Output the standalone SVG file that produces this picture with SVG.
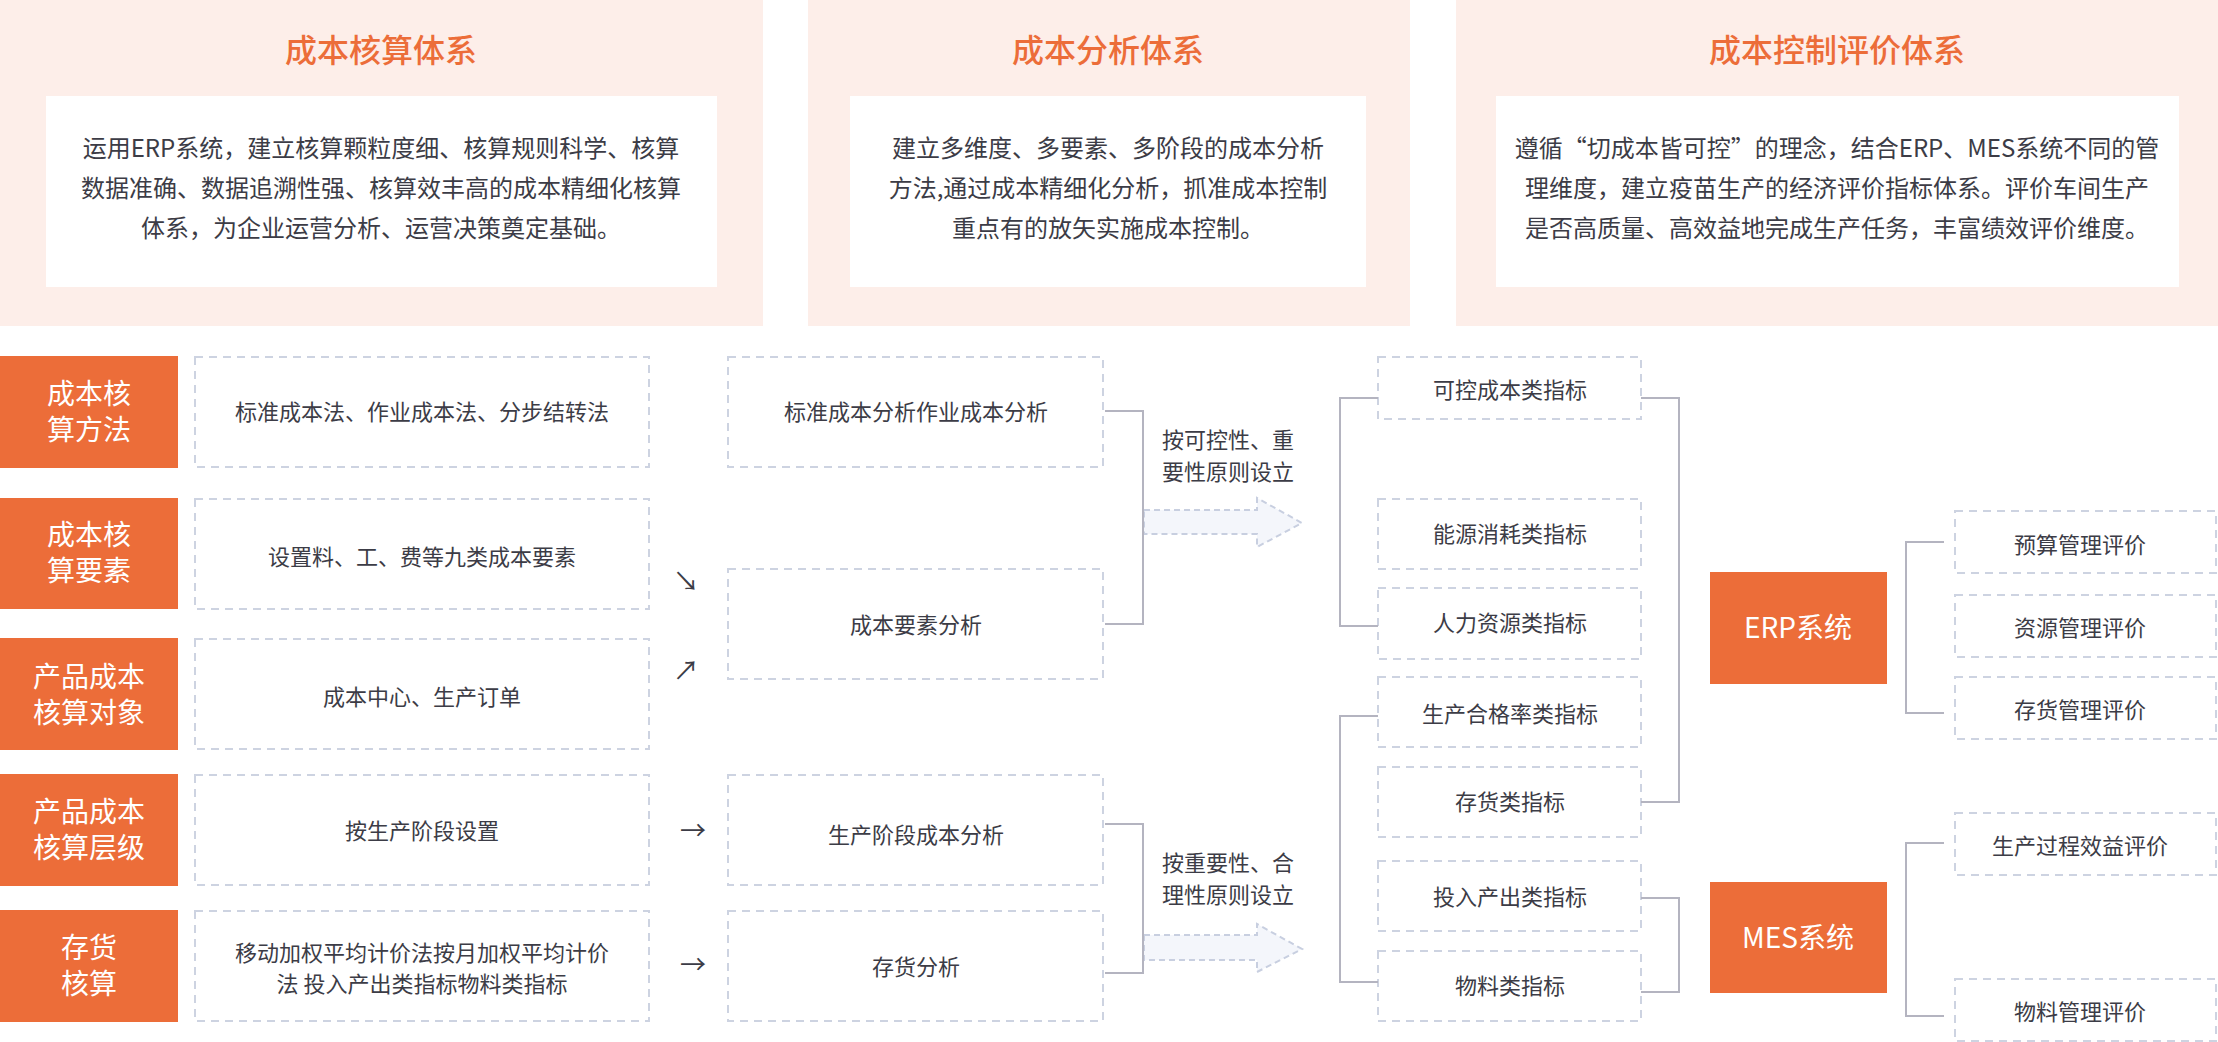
<svg xmlns="http://www.w3.org/2000/svg" width="2218" height="1042" viewBox="0 0 2218 1042">
<style>
text{font-family:"Noto Sans CJK SC","Noto Sans",sans-serif;dominant-baseline:central}
.panel{fill:#fdeee9}
.card{fill:#ffffff}
.title{font-size:32px;fill:#ec6d39;font-weight:500;text-anchor:middle}
.desc{font-size:24px;fill:#3c3c46;text-anchor:middle}
.ob{fill:#ec6d39}
.ot{font-size:28px;fill:#ffffff;text-anchor:middle}
.db{fill:#ffffff;stroke:#cdd3e1;stroke-width:2;stroke-dasharray:8 6}
.t{font-size:22px;fill:#3c3c46;text-anchor:middle}
.lab{font-size:22px;fill:#3c3c46;text-anchor:start}
.ar{font-size:26px;fill:#3c3c46;text-anchor:middle}
.br{fill:none;stroke:#b4b4c0;stroke-width:2}
.big{fill:#f4f6fb;stroke:#c8cfe0;stroke-width:2;stroke-dasharray:6 4}
</style>
<rect width="2218" height="1042" fill="#ffffff"/>

<g id="panel-accounting">
<rect class="panel" x="0" y="0" width="763" height="326"/>
<text class="title" x="381" y="48">成本核算体系</text>
<rect class="card" x="46" y="96" width="671" height="191"/>
<text class="desc" x="381" y="146"><tspan x="381">运用ERP系统，建立核算颗粒度细、核算规则科学、核算</tspan><tspan x="381" dy="40">数据准确、数据追溯性强、核算效丰高的成本精细化核算</tspan><tspan x="381" dy="40">体系，为企业运营分析、运营决策奠定基础。</tspan></text>
</g>

<g id="panel-analysis">
<rect class="panel" x="808" y="0" width="602" height="326"/>
<text class="title" x="1108" y="48">成本分析体系</text>
<rect class="card" x="850" y="96" width="516" height="191"/>
<text class="desc" x="1108" y="146"><tspan x="1108">建立多维度、多要素、多阶段的成本分析</tspan><tspan x="1108" dy="40">方法,通过成本精细化分析，抓准成本控制</tspan><tspan x="1108" dy="40">重点有的放矢实施成本控制。</tspan></text>
</g>

<g id="panel-control">
<rect class="panel" x="1456" y="0" width="762" height="326"/>
<text class="title" x="1837" y="48">成本控制评价体系</text>
<rect class="card" x="1496" y="96" width="683" height="191"/>
<text class="desc" x="1837" y="146"><tspan x="1837">遵循“切成本皆可控”的理念，结合ERP、MES系统不同的管</tspan><tspan x="1837" dy="40">理维度，建立疫苗生产的经济评价指标体系。评价车间生产</tspan><tspan x="1837" dy="40">是否高质量、高效益地完成生产任务，丰富绩效评价维度。</tspan></text>
</g>

<g id="label-method">
<rect class="ob" x="0" y="356" width="178" height="112"/>
<text class="ot" x="89" y="392"><tspan x="89">成本核</tspan><tspan x="89" dy="36">算方法</tspan></text>
</g>
<g id="label-element">
<rect class="ob" x="0" y="498" width="178" height="111"/>
<text class="ot" x="89" y="533"><tspan x="89">成本核</tspan><tspan x="89" dy="36">算要素</tspan></text>
</g>
<g id="label-object">
<rect class="ob" x="0" y="638" width="178" height="112"/>
<text class="ot" x="89" y="675"><tspan x="89">产品成本</tspan><tspan x="89" dy="36">核算对象</tspan></text>
</g>
<g id="label-level">
<rect class="ob" x="0" y="774" width="178" height="112"/>
<text class="ot" x="89" y="810"><tspan x="89">产品成本</tspan><tspan x="89" dy="36">核算层级</tspan></text>
</g>
<g id="label-inventory">
<rect class="ob" x="0" y="910" width="178" height="112"/>
<text class="ot" x="89" y="946"><tspan x="89">存货</tspan><tspan x="89" dy="36">核算</tspan></text>
</g>

<g id="acc-method">
<rect class="db" x="195" y="357" width="454" height="110"/>
<text class="t" x="422" y="410">标准成本法、作业成本法、分步结转法</text>
</g>
<g id="acc-element">
<rect class="db" x="195" y="499" width="454" height="110"/>
<text class="t" x="422" y="555">设置料、工、费等九类成本要素</text>
</g>
<g id="acc-object">
<rect class="db" x="195" y="639" width="454" height="110"/>
<text class="t" x="422" y="695">成本中心、生产订单</text>
</g>
<g id="acc-level">
<rect class="db" x="195" y="775" width="454" height="110"/>
<text class="t" x="422" y="829">按生产阶段设置</text>
</g>
<g id="acc-inventory">
<rect class="db" x="195" y="911" width="454" height="110"/>
<text class="t" x="422" y="951"><tspan x="422">移动加权平均计价法按月加权平均计价</tspan><tspan x="422" dy="31">法 投入产出类指标物料类指标</tspan></text>
</g>

<g id="ana-standard">
<rect class="db" x="728" y="357" width="375" height="110"/>
<text class="t" x="916" y="410">标准成本分析作业成本分析</text>
</g>
<g id="ana-element">
<rect class="db" x="728" y="569" width="375" height="110"/>
<text class="t" x="916" y="623">成本要素分析</text>
</g>
<g id="ana-stage">
<rect class="db" x="728" y="775" width="375" height="110"/>
<text class="t" x="916" y="833">生产阶段成本分析</text>
</g>
<g id="ana-inventory">
<rect class="db" x="728" y="911" width="375" height="110"/>
<text class="t" x="916" y="965">存货分析</text>
</g>

<g id="ind-controllable">
<rect class="db" x="1378" y="357" width="263" height="62"/>
<text class="t" x="1510" y="388">可控成本类指标</text>
</g>
<g id="ind-energy">
<rect class="db" x="1378" y="499" width="263" height="70"/>
<text class="t" x="1510" y="532">能源消耗类指标</text>
</g>
<g id="ind-hr">
<rect class="db" x="1378" y="588" width="263" height="71"/>
<text class="t" x="1510" y="621">人力资源类指标</text>
</g>
<g id="ind-quality">
<rect class="db" x="1378" y="677" width="263" height="70"/>
<text class="t" x="1510" y="712">生产合格率类指标</text>
</g>
<g id="ind-stock">
<rect class="db" x="1378" y="767" width="263" height="70"/>
<text class="t" x="1510" y="800">存货类指标</text>
</g>
<g id="ind-io">
<rect class="db" x="1378" y="861" width="263" height="70"/>
<text class="t" x="1510" y="895">投入产出类指标</text>
</g>
<g id="ind-material">
<rect class="db" x="1378" y="951" width="263" height="70"/>
<text class="t" x="1510" y="984">物料类指标</text>
</g>

<g id="sys-erp">
<rect class="ob" x="1710" y="572" width="177" height="112"/>
<text class="ot" x="1798" y="626">ERP系统</text>
</g>
<g id="sys-mes">
<rect class="ob" x="1710" y="882" width="177" height="111"/>
<text class="ot" x="1798" y="936">MES系统</text>
</g>

<g id="eval-budget">
<rect class="db" x="1955" y="511" width="261" height="62"/>
<text class="t" x="2080" y="543">预算管理评价</text>
</g>
<g id="eval-resource">
<rect class="db" x="1955" y="595" width="261" height="62"/>
<text class="t" x="2080" y="626">资源管理评价</text>
</g>
<g id="eval-stock">
<rect class="db" x="1955" y="677" width="261" height="62"/>
<text class="t" x="2080" y="708">存货管理评价</text>
</g>
<g id="eval-process">
<rect class="db" x="1955" y="813" width="261" height="62"/>
<text class="t" x="2080" y="844">生产过程效益评价</text>
</g>
<g id="eval-material">
<rect class="db" x="1955" y="979" width="261" height="62"/>
<text class="t" x="2080" y="1010">物料管理评价</text>
</g>

<g id="connectors">
<text class="ar" x="686" y="579">↘</text>
<text class="ar" x="686" y="668">↗</text>
<text class="ar" x="693" y="828">→</text>
<text class="ar" x="693" y="962">→</text>

<polyline class="br" points="1105,411 1143,411 1143,624 1105,624"/>
<polyline class="br" points="1105,824 1143,824 1143,973 1105,973"/>

<polygon class="big" points="1144,510 1257,510 1257,498 1302,523 1257,547 1257,534 1144,534"/>
<polygon class="big" points="1144,935 1257,935 1257,924 1302,949 1257,972 1257,960 1144,960"/>
<line class="br" x1="1143" y1="505" x2="1143" y2="540"/>
<line class="br" x1="1143" y1="930" x2="1143" y2="965"/>

<text class="lab" x="1162" y="438"><tspan x="1162">按可控性、重</tspan><tspan x="1162" dy="32">要性原则设立</tspan></text>
<text class="lab" x="1162" y="861"><tspan x="1162">按重要性、合</tspan><tspan x="1162" dy="32">理性原则设立</tspan></text>

<polyline class="br" points="1378,398 1340,398 1340,626 1378,626"/>
<polyline class="br" points="1378,716 1340,716 1340,982 1378,982"/>
<polyline class="br" points="1641,398 1679,398 1679,802 1641,802"/>
<polyline class="br" points="1641,898 1679,898 1679,992 1641,992"/>

<polyline class="br" points="1944,542 1906,542 1906,713 1944,713"/>
<polyline class="br" points="1944,843 1906,843 1906,1016 1944,1016"/>
</g>
</svg>
